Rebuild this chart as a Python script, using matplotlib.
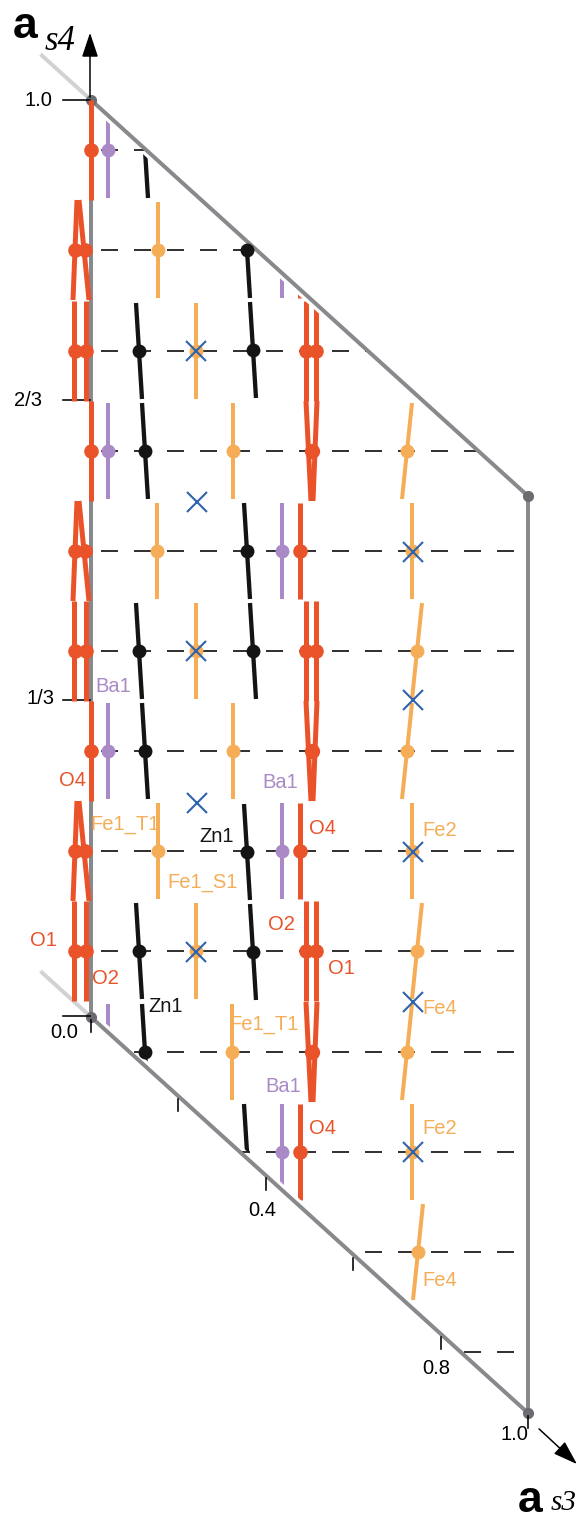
import numpy as np
import matplotlib
matplotlib.use('Agg')
import matplotlib.pyplot as plt
from matplotlib.patches import Polygon

plt.rcParams['lines.scale_dashes'] = False
plt.rcParams['font.family'] = ['Liberation Sans', 'DejaVu Sans']

PX = 0.72  # points per pixel at dpi=100

# frame (a_s3, a_s4 section), drawing units = pixels
corner_x = [91, 528, 528, 91]
corner_y = [100, 496, 1413, 1017]
s3_ticks = [0.0, 0.2, 0.4, 0.6, 0.8, 1.0]
s3_labels = {0.4: '0.4', 0.8: '0.8', 1.0: '1.0'}
s4_tick_y = [1016, 700, 400, 100]
s4_labels = ['0.0', '1/3', '2/3', '1.0']
s4_label_x = [64, 40, 28, 38]
s4_label_y = [1033, 698, 400, 100]

# horizontal sections
dash_y = [150, 250, 351, 451, 551, 651, 751, 851, 951, 1052, 1152, 1252, 1352]

# Zn1 (black)
zn_a_y = [150, 351, 451, 651, 751, 951, 1052]
zn_a_x = [145, 139, 145, 139, 145, 139, 145]
zn_a_dot = [False, True, True, True, True, True, True]
zn_b_y = [250, 350, 551, 651, 852, 952, 1152]
zn_b_x = [247, 253, 247, 253, 247, 253, 247]
zn_b_dot = [True, True, True, True, True, True, False]

# Fe1 (orange)
fe1_a_y = [250, 551, 851]
fe1_a_x = [158, 157, 158]
fe1_b_y = [351, 651, 951]
fe1_b_x = [196, 196, 196]
fe1_c_y = [451, 751, 1052]
fe1_c_x = [233, 233, 232]
# Fe2 / Fe4 (orange)
fe2_y = [551, 851, 1152]
fe2_x = [412, 412, 412]
fe4_y = [451, 651, 751, 951, 1052, 1252]
fe4_x = [407, 417, 407, 417, 407, 418]

# Ba1 (purple)
ba_a_y = [150, 451, 751, 1052]
ba_a_x = [108, 108, 108, 108]
ba_a_dot = [True, True, True, False]
ba_b_y = [250, 551, 851, 1152]
ba_b_x = [282, 282, 282, 282]
ba_b_dot = [False, True, True, True]

# O atoms (red)
o_s_left_y = [150, 451, 751]
o_v_left_y = [250, 551, 851]
o_p_left_y = [351, 651, 951]
o_p_right_y = [351, 651, 951]
o_v_right_y = [451, 751, 1052]
o_s_right_y = [250, 551, 851, 1152]
o_s_right_dot = [False, True, True, True]

# blue crosses
cross_x = [196, 197, 196, 197, 196, 413, 413, 413, 413, 413]
cross_y = [351, 502, 651, 803, 952, 552, 700, 852, 1002, 1152]

# atom labels
lab_text = ['O4', 'O4', 'O4', 'O1', 'O1', 'O2', 'O2', 'Ba1', 'Ba1', 'Ba1',
            'Zn1', 'Zn1', 'Fe1_T1', 'Fe1_T1', 'Fe1_S1', 'Fe2', 'Fe2', 'Fe4', 'Fe4']
lab_x = [72, 322, 322, 43, 341, 105, 281, 113, 280, 283,
         217, 166, 125, 264, 203, 440, 440, 440, 440]
lab_y = [781, 828, 1128, 940, 968, 978, 925, 687, 783, 1087,
         836, 1006, 825, 1025, 883, 830, 1128, 1008, 1280]
lab_kind = ['O', 'O', 'O', 'O', 'O', 'O', 'O', 'Ba', 'Ba', 'Ba',
            'Zn', 'Zn', 'Fe', 'Fe', 'Fe', 'Fe', 'Fe', 'Fe', 'Fe']

RED = '#ea5329'
ORANGE = '#f5ad57'
PURPLE = '#a98ac6'
BLACK = '#141414'
GREY = '#88898c'
BLUE = '#2f63ad'
colors = {'O': RED, 'Ba': PURPLE, 'Zn': BLACK, 'Fe': ORANGE}

HALF = 48

fig = plt.figure(figsize=(5.79, 15.21), dpi=100)
ax = fig.add_axes([0, 0, 1, 1])
ax.set_xlim(0, 579)
ax.set_ylim(1521, 0)
ax.axis('off')

k = (corner_y[1] - corner_y[0]) / (corner_x[1] - corner_x[0])


def top_edge(x, m=0):
    return corner_y[0] + k * (x - corner_x[0]) + m


def bot_edge(x, m=0):
    return corner_y[3] + k * (x - corner_x[3]) + m


m = 7
band = Polygon([(0, top_edge(0, m)), (579, top_edge(579, m)),
                (579, bot_edge(579, -m)), (0, bot_edge(0, -m))],
               closed=True, transform=ax.transData)
frame_clip = Polygon(list(zip(corner_x, corner_y)), closed=True, transform=ax.transData)

# dashed sections
for y in dash_y:
    ln, = ax.plot([2, 579], [y, y], color='#333333', lw=2 * PX,
                  dashes=(17 * PX, 16 * PX), zorder=1)
    ln.set_clip_path(frame_clip)

# frame
ax.add_patch(Polygon(list(zip(corner_x, corner_y)), closed=True, fill=False,
                     ec=GREY, lw=4 * PX, zorder=2))
ax.plot([42, corner_x[0]], [top_edge(42), corner_y[0]], color='#d2d2d2', lw=4 * PX, zorder=1)
ax.plot([42, corner_x[3]], [bot_edge(42), corner_y[3]], color='#d2d2d2', lw=4 * PX, zorder=1)
ax.plot(corner_x, corner_y, 'o', color='#6a6c70', ms=7, zorder=3)


def piece(x_top, x_bot, y, color, lw, half=HALF, clip=True):
    ln, = ax.plot([x_top, x_bot], [y - half, y + half], color=color, lw=lw,
                  solid_capstyle='butt', zorder=4)
    if clip:
        ln.set_clip_path(band)


def domains(xs, ys, tilt, color, lw=4 * PX, dots=None, ms=10, half=HALF, clip=True):
    if dots is None:
        dots = [True] * len(ys)
    for x, y, d in zip(xs, ys, dots):
        piece(x - tilt, x + tilt, y, color, lw, half, clip)
        if d:
            ax.plot(x, y, 'o', color=color, ms=ms, mew=0, zorder=5)


# Zn1
domains(zn_a_x, zn_a_y, 3, BLACK, lw=4.3 * PX, dots=zn_a_dot, ms=10)
domains(zn_b_x, zn_b_y, 3, BLACK, lw=4.3 * PX, dots=zn_b_dot, ms=10)
# Fe
domains(fe1_a_x, fe1_a_y, 0, ORANGE)
domains(fe1_b_x, fe1_b_y, 0, ORANGE)
domains(fe1_c_x, fe1_c_y, 0, ORANGE)
domains(fe2_x, fe2_y, 0, ORANGE)
domains(fe4_x, fe4_y, -5, ORANGE)
# Ba1
domains(ba_a_x, ba_a_y, 0, PURPLE, dots=ba_a_dot, ms=10)
domains(ba_b_x, ba_b_y, 0, PURPLE, dots=ba_b_dot, ms=10)

# O atoms
RW = 5 * PX
domains([91] * len(o_s_left_y), o_s_left_y, 0, RED, lw=RW, half=50, clip=False, ms=10.5)
for y in o_v_left_y:
    piece(77, 73, y, RED, RW, half=50, clip=False)
    piece(79, 89, y, RED, RW, half=50, clip=False)
    ax.plot([75, 85], [y, y], 'o', color=RED, ms=10.5, mew=0, zorder=5)
for y in o_p_left_y:
    piece(74, 74, y, RED, RW, half=50, clip=False)
    piece(86, 86, y, RED, RW, half=50, clip=False)
    ax.plot([75, 86], [y, y], 'o', color=RED, ms=10.5, mew=0, zorder=5)
for y in o_p_right_y:
    piece(306, 306, y, RED, RW, half=50)
    piece(316, 316, y, RED, RW, half=50)
    ax.plot([306, 316], [y, y], 'o', color=RED, ms=10.5, mew=0, zorder=5)
for y in o_v_right_y:
    piece(306, 311, y, RED, RW, half=50)
    piece(317, 313, y, RED, RW, half=50)
    ax.plot([312], [y], 'o', color=RED, ms=11, mew=0, zorder=5)
domains([300] * len(o_s_right_y), o_s_right_y, 0, RED, lw=RW, dots=o_s_right_dot, ms=10.5)

# blue crosses
ax.plot(cross_x, cross_y, 'x', color=BLUE, ms=15, mew=1.5, zorder=6)

# labels
for t, x, y, kd in zip(lab_text, lab_x, lab_y, lab_kind):
    ax.text(x, y, t, color=colors[kd], fontsize=14.5, ha='center', va='center', zorder=7)

# a_s4 axis
for y in s4_tick_y:
    ax.plot([63, 90], [y, y], color='k', lw=1.6 * PX, zorder=3)
for t, x, y in zip(s4_labels, s4_label_x, s4_label_y):
    ax.text(x, y, t, fontsize=14.5, ha='center', va='center')
ax.annotate('', xy=(90, 30), xytext=(90, 100),
            arrowprops=dict(arrowstyle='-|>,head_length=0.75,head_width=0.25',
                            color='k', lw=1.5 * PX, mutation_scale=20))
ax.text(25, 27, 'a', fontsize=32, fontweight='bold', ha='center', va='center')
ax.text(60, 42, 's4', fontsize=25, style='italic', family='Liberation Serif',
        ha='center', va='center')

# a_s3 axis
for s in s3_ticks:
    x = corner_x[3] + s * (corner_x[2] - corner_x[3])
    y0 = bot_edge(x)
    ax.plot([x, x], [y0 + 3, y0 + 15], color='k', lw=1.6 * PX, zorder=3)
    if s in s3_labels:
        ax.text(x - 4 if s < 1 else x - 14, y0 + 35 if s < 1 else y0 + 22,
                s3_labels[s], fontsize=14.5, ha='center', va='center')
ax.annotate('', xy=(579, 1466), xytext=(537, 1427),
            arrowprops=dict(arrowstyle='-|>,head_length=0.75,head_width=0.25',
                            color='k', lw=1.5 * PX, mutation_scale=20))
ax.text(530, 1500, 'a', fontsize=32, fontweight='bold', ha='center', va='center')
ax.text(577, 1503, 's3', fontsize=21, style='italic', family='Liberation Serif',
        ha='right', va='center')

fig.savefig('out.png', dpi=100)
